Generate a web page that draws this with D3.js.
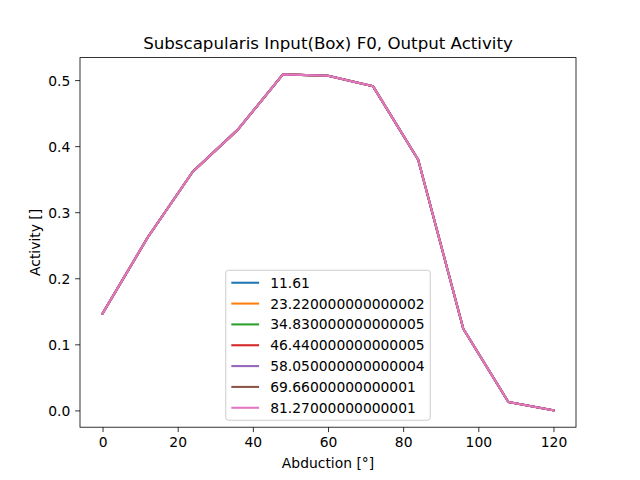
<!DOCTYPE html>
<html>
<head>
<meta charset="utf-8">
<script src="https://cdn.jsdelivr.net/npm/d3@7"></script>
<style>
	body { margin: 0; background: #fff; }
	text { font-family: "DejaVu Sans", sans-serif; fill: #000; }
</style>
</head>
<body>
<svg id="chart" width="640" height="480"></svg>
<script>
var abduction = [0, 12, 24, 36, 48, 60, 72, 84, 96, 108, 120];

// every series lies on the same curve in the picture
var activity = [0.1465, 0.2617, 0.3612, 0.4250, 0.5086, 0.5065, 0.4905, 0.3795, 0.1237, 0.0126, 0.0];

var seriesLabels = [ "11.61", "23.220000000000002", "34.830000000000005", "46.440000000000005",
	"58.050000000000004", "69.66000000000001", "81.27000000000001" ];

var seriesColors = [ "#1f77b4", "#ff7f0e", "#2ca02c", "#d62728", "#9467bd", "#8c564b", "#e377c2" ];

var xTicks = [0, 20, 40, 60, 80, 100, 120],
	yTicks = [0.0, 0.1, 0.2, 0.3, 0.4, 0.5];

var FONT = 13.89,
	margin = { left: 80, right: 64, top: 57.6, bottom: 52.8 },
	width = 640 - margin.left - margin.right,
	height = 480 - margin.top - margin.bottom;

var svg = d3.select("#chart"),
	g = svg.append("g").attr("transform", "translate(" + margin.left + "," + margin.top + ")");

// matplotlib style 5% padding round the data
var xPad = (d3.max(abduction) - d3.min(abduction)) * 0.05,
	yPad = (d3.max(activity) - d3.min(activity)) * 0.05;

var x = d3.scaleLinear()
	.domain([d3.min(abduction) - xPad, d3.max(abduction) + xPad])
	.range([0, width]);

var y = d3.scaleLinear()
	.domain([d3.min(activity) - yPad, d3.max(activity) + yPad])
	.range([height, 0]);

var series = seriesLabels.map(function (label, i) {
	return { label: label, color: seriesColors[i], values: activity };
});

var line = d3.line()
	.x(function (d, i) { return x(abduction[i]); })
	.y(function (d) { return y(d); });

g.selectAll("path.series")
	.data(series)
	.enter()
	.append("path")
		.attr("class", "series")
		.attr("d", function (s) { return line(s.values); })
		.attr("fill", "none")
		.attr("stroke", function (s) { return s.color; })
		.attr("stroke-width", 2.08)
		.attr("stroke-linejoin", "round")
		.attr("stroke-linecap", "square");

// axes
var xAxis = g.append("g")
	.attr("transform", "translate(0," + height + ")")
	.call(d3.axisBottom(x).tickValues(xTicks).tickFormat(d3.format("d")).tickSize(4.86).tickPadding(4.86));

var yAxis = g.append("g")
	.call(d3.axisLeft(y).tickValues(yTicks).tickFormat(d3.format(".1f")).tickSize(4.86).tickPadding(4.86));

[xAxis, yAxis].forEach(function (ax) {
	ax.select(".domain").remove();
	ax.selectAll(".tick line").attr("stroke", "#000").attr("stroke-width", 0.8);
	ax.selectAll(".tick text")
		.style("font-family", "DejaVu Sans")
		.style("font-size", FONT + "px")
		.attr("fill", "#000");
});
xAxis.selectAll(".tick text").attr("dy", "0.76em");
yAxis.selectAll(".tick text").attr("dy", "0.36em");

// frame
g.append("rect")
	.attr("width", width)
	.attr("height", height)
	.attr("fill", "none")
	.attr("stroke", "#000")
	.attr("stroke-width", 0.8);

// title and labels
svg.append("text")
	.attr("x", margin.left + width / 2)
	.attr("y", 49.3)
	.attr("text-anchor", "middle")
	.style("font-size", "16.67px")
	.text("Subscapularis Input(Box) F0, Output Activity");

svg.append("text")
	.attr("x", margin.left + width / 2)
	.attr("y", 467.5)
	.attr("text-anchor", "middle")
	.style("font-size", FONT + "px")
	.text("Abduction [°]");

svg.append("text")
	.attr("transform", "translate(39.5," + (margin.top + height / 2) + ") rotate(-90)")
	.attr("text-anchor", "middle")
	.style("font-size", FONT + "px")
	.text("Activity []");

// legend, lower center like matplotlib's "best"
var em = FONT,
	borderPad = 0.4 * em,
	handleLen = 2 * em,
	handlePad = 0.8 * em,
	rowStep = em * 1.5,
	legend = g.append("g");

var frame = legend.append("rect")
	.attr("rx", 2.8)
	.attr("ry", 2.8)
	.attr("fill", "#fff")
	.attr("fill-opacity", 0.8)
	.attr("stroke", "#cccccc")
	.attr("stroke-width", 1);

var rows = legend.selectAll("g.row")
	.data(series)
	.enter()
	.append("g")
		.attr("class", "row")
		.attr("transform", function (s, i) { return "translate(0," + (borderPad + em / 2 + i * rowStep) + ")"; });

rows.append("line")
	.attr("x1", borderPad)
	.attr("x2", borderPad + handleLen)
	.attr("stroke", function (s) { return s.color; })
	.attr("stroke-width", 2.08);

rows.append("text")
	.attr("x", borderPad + handleLen + handlePad)
	.attr("dy", "0.36em")
	.style("font-size", FONT + "px")
	.text(function (s) { return s.label; });

var textWidth = d3.max(rows.selectAll("text").nodes(), function (n) { return n.getComputedTextLength(); }),
	legendW = borderPad * 2 + handleLen + handlePad + textWidth,
	legendH = borderPad * 2 + series.length * em + (series.length - 1) * 0.5 * em;

frame.attr("width", legendW).attr("height", legendH);
legend.attr("transform", "translate(" + (width / 2 - legendW / 2) + "," + (height - 0.5 * em - legendH) + ")");
</script>
</body>
</html>
